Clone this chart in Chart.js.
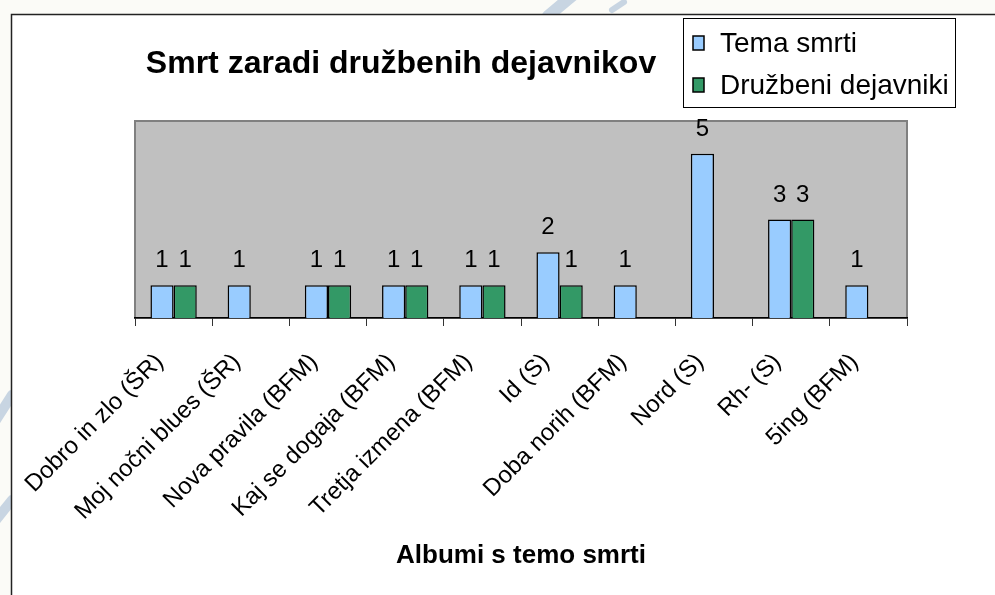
<!DOCTYPE html>
<html>
<head>
<meta charset="utf-8">
<script src="https://cdn.jsdelivr.net/npm/chart.js@4"></script>
<style>
  html, body { margin: 0; padding: 0; background: #fbfbf7; }
  #wrap { width: 995px; height: 595px; }
</style>
</head>
<body>
<div id="wrap"><canvas id="smrtChart" width="995" height="595"></canvas></div>
<script>
// podatki z grafa
var albumi = [
  "Dobro in zlo (ŠR)",
  "Moj nočni blues (ŠR)",
  "Nova pravila (BFM)",
  "Kaj se dogaja (BFM)",
  "Tretja izmena (BFM)",
  "Id (S)",
  "Doba norih (BFM)",
  "Nord (S)",
  "Rh- (S)",
  "5ing (BFM)",
]
var temaSmrti = [1, 1, 1, 1, 1, 2, 1, 5, 3, 1]
var druzbeniDejavniki = [1, null, 1, 1, 1, 1, null, null, 3, null]
var imenaSerij = ["Tema smrti", "Družbeni dejavniki"]
var barve = ["#99CCFF", "#339966"]

var pisava = "'Liberation Sans', Arial, sans-serif"

// ozadje, okvir, siva ploskev grafa
var ozadjePlugin = {
  id: "ozadje",
  beforeDraw: function (chart) {
    var ctx = chart.ctx
    var a = chart.chartArea
    ctx.save()
    ctx.fillStyle = "#fbfbf7"
    ctx.fillRect(0, 0, chart.width, chart.height)
    // bleda modra vodna znamka
    ctx.strokeStyle = "rgba(150,175,205,0.5)"
    ctx.lineCap = "round"
    ctx.lineWidth = 12
    ctx.beginPath(); ctx.moveTo(548, 16); ctx.lineTo(572, -4); ctx.stroke()
    ctx.lineWidth = 6
    ctx.beginPath(); ctx.moveTo(612, 10); ctx.lineTo(624, 2); ctx.stroke()
    ctx.lineWidth = 10
    ctx.beginPath(); ctx.moveTo(-4, 420); ctx.lineTo(12, 395); ctx.stroke()
    ctx.beginPath(); ctx.moveTo(-4, 520); ctx.lineTo(12, 500); ctx.stroke()
    // okvir
    ctx.fillStyle = "#ffffff"
    ctx.fillRect(11, 15, chart.width, chart.height)
    ctx.strokeStyle = "#222"
    ctx.lineWidth = 1.5
    ctx.beginPath()
    ctx.moveTo(11.5, chart.height)
    ctx.lineTo(11.5, 14.5)
    ctx.lineTo(chart.width, 14.5)
    ctx.stroke()
    // siva ploskev
    ctx.fillStyle = "#C0C0C0"
    ctx.fillRect(a.left, a.top, a.right - a.left, a.bottom - a.top)
    ctx.strokeStyle = "#808080"
    ctx.lineWidth = 2
    ctx.strokeRect(a.left, a.top, a.right - a.left, a.bottom - a.top)
    ctx.restore()
  },
  afterDatasetsDraw: function (chart) {
    var ctx = chart.ctx
    ctx.save()
    ctx.font = "24px " + pisava
    ctx.fillStyle = "#000"
    ctx.textAlign = "center"
    ctx.textBaseline = "alphabetic"
    chart.data.datasets.forEach(function (ds, i) {
      var meta = chart.getDatasetMeta(i)
      meta.data.forEach(function (bar, j) {
        var v = ds.data[j]
        if (v === null || v === undefined) return
        ctx.fillText(String(v), bar.x, bar.y - 18)
      })
    })
    ctx.restore()
  },
  afterDraw: function (chart) {
    var ctx = chart.ctx
    ctx.save()
    // naslov
    ctx.font = "bold 32px " + pisava
    ctx.fillStyle = "#000"
    ctx.textAlign = "center"
    ctx.textBaseline = "alphabetic"
    ctx.fillText("Smrt zaradi družbenih dejavnikov", 401, 73)
    // legenda
    ctx.fillStyle = "#fff"
    ctx.fillRect(683, 18, 272, 89)
    ctx.strokeStyle = "#000"
    ctx.lineWidth = 1
    ctx.strokeRect(683.5, 18.5, 272, 89)
    var vrstice = [43, 85]
    ctx.font = "28px " + pisava
    ctx.textAlign = "left"
    ctx.textBaseline = "middle"
    for (var i = 0; i < imenaSerij.length; i++) {
      ctx.fillStyle = barve[i]
      ctx.fillRect(693, vrstice[i] - 7, 11, 14)
      ctx.strokeStyle = "#000"
      ctx.lineWidth = 1.5
      ctx.strokeRect(693, vrstice[i] - 7, 11, 14)
      ctx.fillStyle = "#000"
      ctx.fillText(imenaSerij[i], 720, vrstice[i] + 1)
    }
    ctx.restore()
  },
}

var ctx = document.getElementById("smrtChart").getContext("2d")

new Chart(ctx, {
  type: "bar",
  data: {
    labels: albumi,
    datasets: [
      {
        label: imenaSerij[0],
        data: temaSmrti,
        backgroundColor: barve[0],
        borderColor: "#000",
        borderWidth: 1.5,
      },
      {
        label: imenaSerij[1],
        data: druzbeniDejavniki,
        backgroundColor: barve[1],
        borderColor: "#000",
        borderWidth: 1.5,
      },
    ],
  },
  options: {
    responsive: false,
    animation: false,
    layout: {
      padding: { left: 135, right: 88, top: 121, bottom: 0 },
    },
    datasets: {
      bar: {
        categoryPercentage: 0.6,
        barPercentage: 1.0,
      },
    },
    plugins: {
      legend: { display: false },
      title: { display: false },
      tooltip: { enabled: false },
    },
    scales: {
      x: {
        grid: {
          offset: true,
          drawOnChartArea: false,
          drawTicks: true,
          tickLength: 8,
          color: "#333",
          lineWidth: 1,
        },
        border: { display: true, color: "#000", width: 1.5 },
        ticks: {
          autoSkip: false,
          minRotation: 45,
          maxRotation: 45,
          padding: 22,
          labelOffset: -14,
          color: "#000",
          font: { family: pisava, size: 24 },
        },
        title: {
          display: true,
          text: "Albumi s temo smrti",
          color: "#000",
          font: { family: pisava, size: 26, weight: "bold" },
          padding: { top: 0, bottom: 24 },
        },
        afterFit: function (axis) {
          axis.height = 277
          axis.paddingLeft = 0
          axis.paddingRight = 0
        },
      },
      y: {
        display: false,
        min: 0,
        max: 6,
      },
    },
  },
  plugins: [ozadjePlugin],
})
</script>
</body>
</html>
